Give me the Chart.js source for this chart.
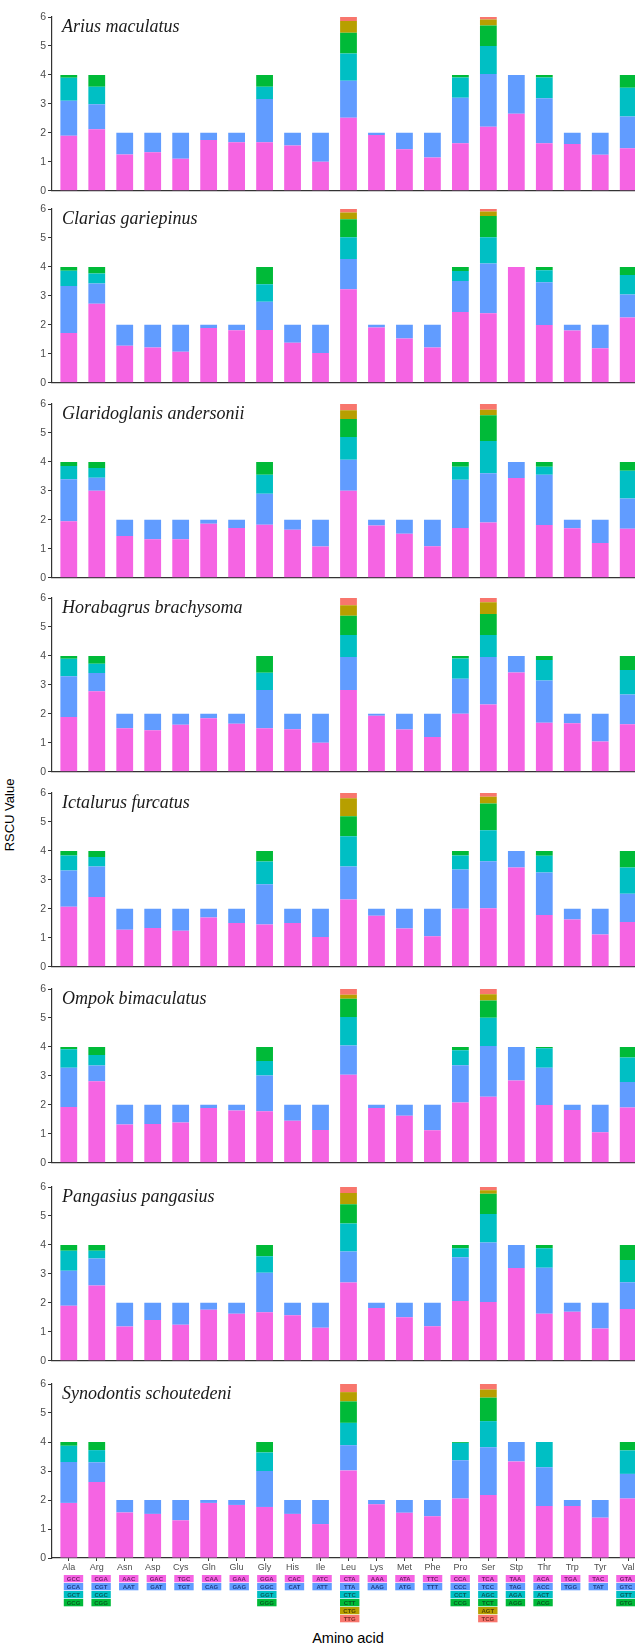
<!DOCTYPE html>
<html>
<head>
<meta charset="utf-8">
<script src="https://cdn.jsdelivr.net/npm/chart.js@4.4.1/dist/chart.umd.min.js"></script>
<style>
  body { margin: 0; background: #fff; width: 635px; height: 1648px; overflow: hidden; position: relative;
         font-family: Arial, "Liberation Sans", sans-serif; }
  canvas { position: absolute; left: 0; }
  #tituloY { position: absolute; left: 9px; top: 815px; transform: translate(-50%, -50%) rotate(-90deg);
             font-size: 13px; color: #000; white-space: nowrap; }
  #tituloX { position: absolute; left: 348px; top: 1638px; transform: translate(-50%, -50%);
             font-size: 14.5px; color: #000; white-space: nowrap; }
</style>
</head>
<body>
<div id="tituloY">RSCU Value</div>
<div id="tituloX">Amino acid</div>
<script>
// aminoacidos y codones (orden de apilado: de abajo hacia arriba)
const aminoAcids = ['Ala', 'Arg', 'Asn', 'Asp', 'Cys', 'Gln', 'Glu', 'Gly', 'His', 'Ile', 'Leu',
                    'Lys', 'Met', 'Phe', 'Pro', 'Ser', 'Stp', 'Thr', 'Trp', 'Tyr', 'Val'];
const codons = [
    ['GCC', 'GCA', 'GCT', 'GCG'], ['CGA', 'CGT', 'CGC', 'CGG'], ['AAC', 'AAT'], ['GAC', 'GAT'],
    ['TGC', 'TGT'], ['CAA', 'CAG'], ['GAA', 'GAG'], ['GGA', 'GGC', 'GGT', 'GGG'], ['CAC', 'CAT'],
    ['ATC', 'ATT'], ['CTA', 'TTA', 'CTC', 'CTT', 'CTG', 'TTG'], ['AAA', 'AAG'], ['ATA', 'ATG'],
    ['TTC', 'TTT'], ['CCA', 'CCC', 'CCT', 'CCG'], ['TCA', 'TCC', 'AGC', 'TCT', 'AGT', 'TCG'],
    ['TAA', 'TAG', 'AGA', 'AGG'], ['ACA', 'ACC', 'ACT', 'ACG'], ['TGA', 'TGG'], ['TAC', 'TAT'],
    ['GTA', 'GTC', 'GTT', 'GTG']
];
const codonColors = ['#F564E3', '#619CFF', '#00BFC4', '#00BA38', '#B79F00', '#F8766D'];
const codonTextColors = ['#6e1f66', '#1d3f86', '#075a5c', '#075a22', '#4f4500', '#7e2a25'];

const speciesNames = ['Arius maculatus', 'Clarias gariepinus', 'Glaridoglanis andersonii',
                      'Horabagrus brachysoma', 'Ictalurus furcatus', 'Ompok bimaculatus',
                      'Pangasius pangasius', 'Synodontis schoutedeni'];

// RSCU de cada codon, por aminoacido (mismo orden que aminoAcids / codons)
const ariusMaculatus = [
    [1.90, 1.21, 0.79, 0.10], [2.12, 0.87, 0.60, 0.41], [1.25, 0.75], [1.33, 0.67], [1.10, 0.90],
    [1.75, 0.25], [1.67, 0.33], [1.67, 1.50, 0.42, 0.41], [1.56, 0.44], [1.00, 1.00],
    [2.52, 1.28, 0.94, 0.72, 0.40, 0.14], [1.92, 0.08], [1.43, 0.57], [1.15, 0.85],
    [1.64, 1.57, 0.70, 0.09], [2.21, 1.82, 0.97, 0.71, 0.20, 0.09], [2.66, 1.34],
    [1.64, 1.55, 0.72, 0.09], [1.61, 0.39], [1.24, 0.76], [1.47, 1.09, 1.00, 0.44]
];
const clariasGariepinus = [
    [1.72, 1.62, 0.53, 0.13], [2.73, 0.70, 0.34, 0.23], [1.28, 0.72], [1.22, 0.78], [1.07, 0.93],
    [1.89, 0.11], [1.81, 0.19], [1.82, 0.98, 0.60, 0.60], [1.38, 0.62], [1.03, 0.97],
    [3.23, 1.04, 0.75, 0.63, 0.23, 0.12], [1.91, 0.09], [1.53, 0.47], [1.22, 0.78],
    [2.44, 1.07, 0.35, 0.14], [2.40, 1.72, 0.90, 0.74, 0.15, 0.09], [4.00, 0.00],
    [1.99, 1.48, 0.41, 0.12], [1.80, 0.20], [1.19, 0.81], [2.25, 0.80, 0.67, 0.28]
];
const glaridoglanisAndersonii = [
    [1.95, 1.45, 0.46, 0.14], [3.00, 0.45, 0.34, 0.21], [1.44, 0.56], [1.33, 0.67], [1.33, 0.67],
    [1.86, 0.14], [1.72, 0.28], [1.83, 1.07, 0.66, 0.44], [1.66, 0.34], [1.08, 0.92],
    [3.00, 1.07, 0.79, 0.62, 0.30, 0.22], [1.80, 0.20], [1.52, 0.48], [1.09, 0.91],
    [1.72, 1.66, 0.45, 0.17], [1.91, 1.70, 1.11, 0.89, 0.19, 0.20], [3.44, 0.56],
    [1.82, 1.74, 0.27, 0.17], [1.71, 0.29], [1.20, 0.80], [1.69, 1.05, 0.95, 0.31]
];
const horabagrusBrachysoma = [
    [1.89, 1.41, 0.60, 0.10], [2.78, 0.63, 0.32, 0.27], [1.50, 0.50], [1.43, 0.57], [1.62, 0.38],
    [1.85, 0.15], [1.66, 0.34], [1.50, 1.32, 0.60, 0.58], [1.47, 0.53], [1.00, 1.00],
    [2.82, 1.14, 0.76, 0.67, 0.36, 0.25], [1.93, 0.07], [1.46, 0.54], [1.20, 0.80],
    [2.00, 1.21, 0.70, 0.09], [2.32, 1.64, 0.76, 0.73, 0.40, 0.15], [3.43, 0.57],
    [1.69, 1.46, 0.71, 0.14], [1.67, 0.33], [1.04, 0.96], [1.64, 1.03, 0.84, 0.49]
];
const ictalurusFurcatus = [
    [2.07, 1.25, 0.52, 0.16], [2.41, 1.05, 0.33, 0.21], [1.28, 0.72], [1.34, 0.66], [1.24, 0.76],
    [1.70, 0.30], [1.51, 0.49], [1.46, 1.39, 0.78, 0.37], [1.51, 0.49], [1.03, 0.97],
    [2.32, 1.14, 1.05, 0.69, 0.62, 0.18], [1.76, 0.24], [1.32, 0.68], [1.05, 0.95],
    [2.00, 1.36, 0.48, 0.16], [2.02, 1.62, 1.07, 0.93, 0.23, 0.13], [3.43, 0.57],
    [1.79, 1.46, 0.58, 0.17], [1.63, 0.37], [1.11, 0.89], [1.54, 0.98, 0.91, 0.57]
];
const ompokBimaculatus = [
    [1.92, 1.36, 0.64, 0.08], [2.81, 0.55, 0.36, 0.28], [1.32, 0.68], [1.34, 0.66], [1.39, 0.61],
    [1.89, 0.11], [1.80, 0.20], [1.78, 1.23, 0.50, 0.49], [1.45, 0.55], [1.13, 0.87],
    [3.04, 1.01, 0.98, 0.63, 0.14, 0.20], [1.89, 0.11], [1.62, 0.38], [1.12, 0.88],
    [2.08, 1.29, 0.51, 0.12], [2.28, 1.75, 0.98, 0.59, 0.22, 0.18], [2.84, 1.16],
    [1.99, 1.29, 0.67, 0.05], [1.82, 0.18], [1.05, 0.95], [1.91, 0.88, 0.84, 0.37]
];
const pangasiusPangasius = [
    [1.90, 1.21, 0.69, 0.20], [2.60, 0.93, 0.27, 0.20], [1.18, 0.82], [1.41, 0.59], [1.24, 0.76],
    [1.76, 0.24], [1.62, 0.38], [1.67, 1.37, 0.57, 0.39], [1.57, 0.43], [1.14, 0.86],
    [2.70, 1.07, 0.97, 0.66, 0.39, 0.21], [1.82, 0.18], [1.50, 0.50], [1.19, 0.81],
    [2.06, 1.51, 0.31, 0.12], [2.03, 2.05, 0.99, 0.70, 0.12, 0.11], [3.20, 0.80],
    [1.62, 1.59, 0.67, 0.12], [1.69, 0.31], [1.11, 0.89], [1.79, 0.92, 0.77, 0.52]
];
const synodontisSchoutedeni = [
    [1.90, 1.41, 0.56, 0.13], [2.62, 0.68, 0.42, 0.28], [1.57, 0.43], [1.52, 0.48], [1.30, 0.70],
    [1.90, 0.10], [1.83, 0.17], [1.76, 1.24, 0.64, 0.36], [1.52, 0.48], [1.17, 0.83],
    [3.02, 0.87, 0.77, 0.74, 0.32, 0.28], [1.85, 0.15], [1.56, 0.44], [1.44, 0.56],
    [2.05, 1.32, 0.60, 0.03], [2.17, 1.65, 0.90, 0.81, 0.28, 0.19], [3.33, 0.67],
    [1.79, 1.34, 0.87, 0.00], [1.79, 0.21], [1.39, 0.61], [2.05, 0.85, 0.81, 0.29]
];

const speciesData = [ariusMaculatus, clariasGariepinus, glaridoglanisAndersonii, horabagrusBrachysoma,
                     ictalurusFurcatus, ompokBimaculatus, pangasiusPangasius, synodontisSchoutedeni];

// linea "6" de cada panel
const panelTops = [17, 209, 404, 598, 793, 989, 1187, 1384];

const tituloEspecie = {
    id: 'tituloEspecie',
    afterDraw(chart, args, opts) {
        const ctx = chart.ctx;
        ctx.save();
        ctx.font = 'italic 18px "Liberation Serif", "DejaVu Serif", serif';
        ctx.fillStyle = '#1a1a1a';
        ctx.fillText(opts.texto, chart.chartArea.left + 10, chart.chartArea.top + 15);
        ctx.restore();
    }
};

const cajasCodones = {
    id: 'cajasCodones',
    afterDraw(chart, args, opts) {
        if (!opts.mostrar) return;
        const ctx = chart.ctx;
        const escalaX = chart.scales.x;
        const base = chart.chartArea.bottom + 17;
        ctx.save();
        ctx.font = 'bold 6px Arial, "Liberation Sans", sans-serif';
        ctx.textAlign = 'center';
        ctx.textBaseline = 'middle';
        aminoAcids.forEach((a, i) => {
            const cx = escalaX.getPixelForValue(i) + 4.7 - 0.35 * i;
            codons[i].forEach((c, r) => {
                const y = base + r * 8;
                ctx.fillStyle = codonColors[r];
                ctx.fillRect(cx - 9.7, y, 19.4, 7.3);
                ctx.fillStyle = codonTextColors[r];
                ctx.fillText(c, cx, y + 3.9);
            });
        });
        ctx.restore();
    }
};

function crearPanel(k) {
    const ultimo = k === speciesNames.length - 1;
    const canvas = document.createElement('canvas');
    canvas.width = 645;
    canvas.height = ultimo ? 274 : 192;
    canvas.style.top = (panelTops[k] - 10) + 'px';
    document.body.appendChild(canvas);

    const datos = speciesData[k];
    const datasets = codonColors.map((color, r) => ({
        label: 'Codon ' + (r + 1),
        data: aminoAcids.map((a, i) => ({ x: i, y: datos[i][r] })).filter(p => p.y !== undefined),
        backgroundColor: color,
        borderWidth: 0,
        barPercentage: 0.6,
        categoryPercentage: 1
    }));

    new Chart(canvas.getContext('2d'), {
        type: 'bar',
        data: { datasets: datasets },
        plugins: [tituloEspecie, cajasCodones],
        options: {
            responsive: false,
            animation: false,
            layout: { padding: { top: 10, bottom: ultimo ? 0 : 8, left: 0, right: 0 } },
            plugins: {
                legend: { display: false },
                tooltip: { enabled: false },
                tituloEspecie: { texto: speciesNames[k] },
                cajasCodones: { mostrar: ultimo }
            },
            scales: {
                x: {
                    type: 'linear',
                    stacked: true,
                    offset: false,
                    min: -0.6,
                    max: 20.6,
                    afterBuildTicks: (s) => { s.ticks = aminoAcids.map((a, i) => ({ value: i })); },
                    afterFit: (s) => { s.height = ultimo ? 90 : 0; },
                    grid: { display: ultimo, drawOnChartArea: false, offset: false, tickLength: 3, color: '#333' },
                    border: { display: true, color: '#333', width: 1.2 },
                    ticks: {
                        display: ultimo,
                        autoSkip: false,
                        maxRotation: 0,
                        padding: 1,
                        color: '#4d4d4d',
                        font: { size: 9, family: 'Arial, "Liberation Sans", sans-serif' },
                        callback: (v) => aminoAcids[v]
                    }
                },
                y: {
                    stacked: true,
                    min: 0,
                    max: 6,
                    afterFit: (s) => { s.width = 52; },
                    grid: { display: true, drawOnChartArea: false, tickLength: 4, color: '#333' },
                    border: { display: true, color: '#333', width: 1.2 },
                    ticks: {
                        stepSize: 1,
                        padding: 2,
                        color: '#4d4d4d',
                        font: { size: 10.5, family: 'Arial, "Liberation Sans", sans-serif' }
                    }
                }
            }
        }
    });
}

speciesNames.forEach((n, k) => crearPanel(k));
</script>
</body>
</html>
